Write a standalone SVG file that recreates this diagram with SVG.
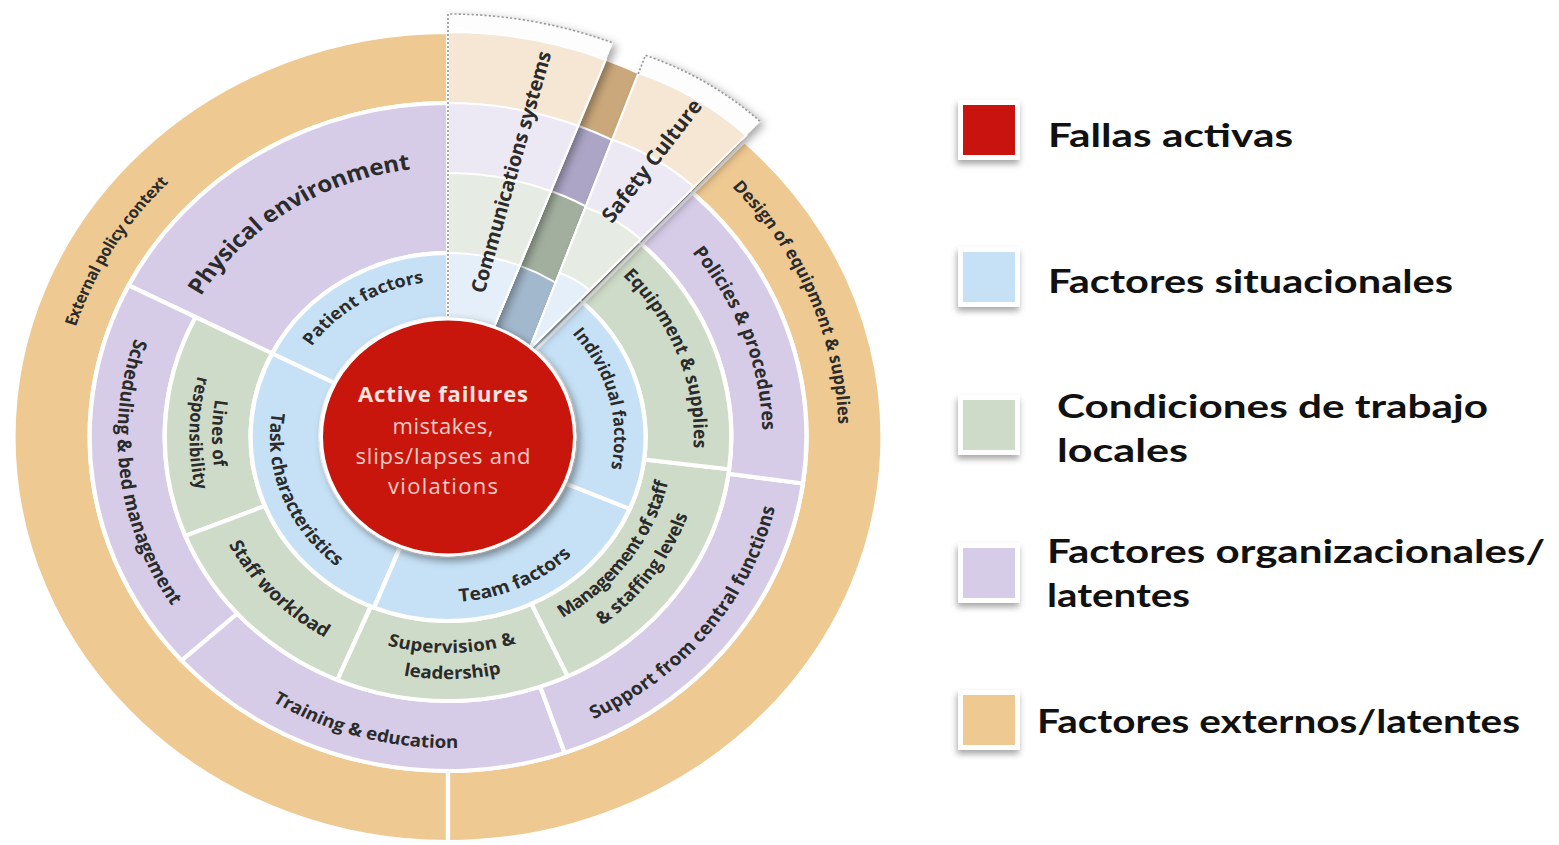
<svg xmlns="http://www.w3.org/2000/svg" width="1559" height="845" viewBox="0 0 1559 845">
<defs>
<style>
.lbl{font-family:"Open Sans","Liberation Sans",sans-serif;font-weight:700;fill:#2b2b2b}
.sec{stroke:#fff;stroke-width:4;stroke-linejoin:round}
.or{fill:#efc992}.pu{fill:#d6cce7}.gr{fill:#cfdbc9}.bu{fill:#c6e1f6}
.lor{fill:#f6e7d4}.lpu{fill:#ede9f4}.lgr{fill:#e6ece3}.lbu{fill:#e4eff9}
.dor{fill:#caa87b}.dpu{fill:#aca5c6}.dgr{fill:#a2af9e}.dbu{fill:#a2b8cc}
.band{stroke:#fff;stroke-width:2}
.dot{fill:none;stroke:#9a9a9a;stroke-width:1.6;stroke-dasharray:2 2}
.ctr{font-family:"Open Sans","Liberation Sans",sans-serif;font-size:22px}
.leg{font-family:Lato,"Liberation Sans",sans-serif;font-weight:700;font-size:33px;fill:#111}
</style>
<filter id="sh" x="-30%" y="-30%" width="160%" height="160%"><feDropShadow dx="4" dy="3" stdDeviation="4" flood-color="#000" flood-opacity="0.35"/></filter>
<filter id="shr" x="-30%" y="-30%" width="160%" height="160%"><feDropShadow dx="3" dy="4" stdDeviation="4" flood-color="#000" flood-opacity="0.45"/></filter>
<filter id="shl" x="-30%" y="-30%" width="160%" height="160%"><feDropShadow dx="-1" dy="4" stdDeviation="3" flood-color="#000" flood-opacity="0.35"/></filter>
<path id="t1" d="M-363.9,-6.4 A364,364 0 0 1 -176.5,-318.4"/>
<path id="t2" d="M220.6,-289.6 A364,364 0 0 1 361.1,46.3"/>
<path id="t3" d="M-240.6,-122.6 A270,270 0 0 1 -14.1,-269.6"/>
<path id="t4" d="M-259.2,-166.4 A308,308 0 0 0 -208.9,226.3"/>
<path id="t5" d="M-219.9,219.9 A311,311 0 0 0 80.5,300.4"/>
<path id="t6" d="M87.9,300.4 A313,313 0 0 0 312.3,20.2"/>
<path id="t7" d="M187.5,-225.1 A293,293 0 0 1 288.7,49.9"/>
<path id="t8a" d="M-188.6,-113.3 A220,220 0 0 0 -192.4,106.7"/>
<path id="t8b" d="M-206.6,-124.1 A241,241 0 0 0 -210.8,116.8"/>
<path id="t9" d="M-224.1,55.9 A231,231 0 0 0 -63.7,222.1"/>
<path id="t10a" d="M-104.7,188.9 A216,216 0 0 0 111.2,185.2"/>
<path id="t10b" d="M-117.3,211.7 A242,242 0 0 0 124.6,207.4"/>
<path id="t11a" d="M85.4,191.8 A210,210 0 0 0 208.8,21.9"/>
<path id="t11b" d="M96.4,216.5 A237,237 0 0 0 235.7,24.8"/>
<path id="t12" d="M144.1,-178.0 A229,229 0 0 1 226.2,35.8"/>
<path id="t13" d="M-137.0,-74.7 A156,156 0 0 1 -3.8,-156.0"/>
<path id="t14" d="M-157.3,-53.0 A166,166 0 0 0 -79.5,145.7"/>
<path id="t15" d="M-17.2,164.1 A165,165 0 0 0 133.5,97.0"/>
<path id="t16" d="M109.6,-109.6 A155,155 0 0 1 149.7,40.1"/>
</defs>

<g id="wheel" transform="translate(448,437) scale(1.073,1)">
  <g id="ring-external">
    <path id="external-policy" class="sec or" d="M0,405 A405,405 0 0 1 0,-405 L0,-334 A334,334 0 0 0 0,334 Z"/>
    <path id="design-equipment" class="sec or" d="M276.2,-296.2 A405,405 0 0 1 0,405 L0,334 A334,334 0 0 0 227.8,-244.3 Z"/>
  </g>
  <g id="ring-organisational">
    <path id="physical-environment" class="sec pu" d="M-297.6,-151.6 A334,334 0 0 1 0,-334 L0,-184 A184,184 0 0 0 -163.9,-83.5 Z"/>
    <path id="scheduling" class="sec pu" d="M-248.2,223.5 A334,334 0 0 1 -297.6,-151.6 L-235.2,-119.9 A264,264 0 0 0 -196.2,176.6 Z"/>
    <path id="training" class="sec pu" d="M108.7,315.8 A334,334 0 0 1 -248.2,223.5 L-196.2,176.6 A264,264 0 0 0 86.0,249.6 Z"/>
    <path id="support" class="sec pu" d="M330.8,46.5 A334,334 0 0 1 108.7,315.8 L86.0,249.6 A264,264 0 0 0 261.4,36.7 Z"/>
    <path id="policies" class="sec pu" d="M227.8,-244.3 A334,334 0 0 1 330.8,46.5 L261.4,36.7 A264,264 0 0 0 180.0,-193.1 Z"/>
  </g>
  <g id="ring-local">
    <path id="lines" class="sec gr" d="M-244.8,98.9 A264,264 0 0 1 -235.2,-119.9 L-163.9,-83.5 A184,184 0 0 0 -170.6,68.9 Z"/>
    <path id="staff-workload" class="sec gr" d="M-103.1,243.0 A264,264 0 0 1 -244.8,98.9 L-170.6,68.9 A184,184 0 0 0 -71.9,169.4 Z"/>
    <path id="supervision" class="sec gr" d="M111.6,239.3 A264,264 0 0 1 -103.1,243.0 L-71.9,169.4 A184,184 0 0 0 77.8,166.8 Z"/>
    <path id="management" class="sec gr" d="M262.0,32.2 A264,264 0 0 1 111.6,239.3 L77.8,166.8 A184,184 0 0 0 182.6,22.4 Z"/>
    <path id="equipment" class="sec gr" d="M180.0,-193.1 A264,264 0 0 1 262.0,32.2 L182.6,22.4 A184,184 0 0 0 125.5,-134.6 Z"/>
  </g>
  <g id="ring-situational">
    <path id="patient" class="sec bu" d="M-163.9,-83.5 A184,184 0 0 1 0,-184 L0,-119 A119,119 0 0 0 -106.0,-54.0 Z"/>
    <path id="task" class="sec bu" d="M-68.9,170.6 A184,184 0 0 1 -163.9,-83.5 L-106.0,-54.0 A119,119 0 0 0 -44.6,110.3 Z"/>
    <path id="team" class="sec bu" d="M169.4,71.9 A184,184 0 0 1 -68.9,170.6 L-44.6,110.3 A119,119 0 0 0 109.5,46.5 Z"/>
    <path id="individual" class="sec bu" d="M125.5,-134.6 A184,184 0 0 1 169.4,71.9 L109.5,46.5 A119,119 0 0 0 81.2,-87.0 Z"/>
  </g>
  <g id="gap-shadow">
    <path class="dor band" d="M0,0 L147.1,-377.3 A405,405 0 0 1 276.2,-296.2 Z"/>
    <path class="dpu band" d="M0,0 L121.3,-311.2 A334,334 0 0 1 227.8,-244.3 Z"/>
    <path class="dgr band" d="M0,0 L95.9,-246.0 A264,264 0 0 1 180.0,-193.1 Z"/>
    <path class="dbu band" d="M0,0 L66.8,-171.4 A184,184 0 0 1 125.5,-134.6 Z"/>
  </g>
  <g id="communications-card">
    <path fill="#fdfdfd" filter="url(#sh)" d="M0,0 L0,-423 A423,423 0 0 1 153.7,-394.1 Z"/>
    <path class="lor band" d="M0,0 L0,-405 A405,405 0 0 1 147.1,-377.3 Z"/>
    <path class="lpu band" d="M0,0 L0,-334 A334,334 0 0 1 121.3,-311.2 Z"/>
    <path class="lgr band" d="M0,0 L0,-264 A264,264 0 0 1 95.9,-246.0 Z"/>
    <path class="lbu band" d="M0,0 L0,-184 A184,184 0 0 1 66.8,-171.4 Z"/>
    <path class="dot" d="M0,-121 L0,-423 A423,423 0 0 1 153.7,-394.1"/>
  </g>
  <g id="safety-card" transform="translate(76,-88)">
    <path fill="#fdfdfd" filter="url(#sh)" d="M0,0 L108.1,-293.7 A313,313 0 0 1 215.1,-227.4 Z"/>
    <path class="lor band" d="M0,0 L101.5,-275.9 A294,294 0 0 1 202.0,-213.6 Z"/>
    <path class="lpu band" d="M0,0 L77.0,-209.3 A223,223 0 0 1 153.2,-162.0 Z"/>
    <path class="lgr band" d="M0,0 L52.1,-141.7 A151,151 0 0 1 103.8,-109.7 Z"/>
    <path class="lbu band" d="M0,0 L28.0,-76.0 A81,81 0 0 1 55.7,-58.9 Z"/>
    <path class="dot" d="M101.2,-275 L108.1,-293.7 A313,313 0 0 1 215.1,-227.4"/>
  </g>
  <g id="active-failures">
    <circle r="118" fill="#c9170f" stroke="#fff" stroke-width="3" filter="url(#shr)"/>
  </g>
  <g id="ring-labels" text-anchor="middle">
    <text class="lbl" font-size="15.5"><textPath href="#t1" startOffset="50%" textLength="170">External policy context</textPath></text>
    <text class="lbl" font-size="16.5"><textPath href="#t2" startOffset="50%" textLength="263">Design of equipment &amp; supplies</textPath></text>
    <text class="lbl" font-size="22.5"><textPath href="#t3" startOffset="50%" textLength="241">Physical environment</textPath></text>
    <text class="lbl" font-size="18"><textPath href="#t4" startOffset="50%" textLength="279">Scheduling &amp; bed management</textPath></text>
    <text class="lbl" font-size="17.5"><textPath href="#t5" startOffset="50%" textLength="182">Training &amp; education</textPath></text>
    <text class="lbl" font-size="18"><textPath href="#t6" startOffset="50%" textLength="280">Support from central functions</textPath></text>
    <text class="lbl" font-size="18"><textPath href="#t7" startOffset="50%" textLength="193">Policies &amp; procedures</textPath></text>
    <text class="lbl" font-size="17"><textPath href="#t8a" startOffset="50%" textLength="68">Lines of</textPath></text>
    <text class="lbl" font-size="16.5"><textPath href="#t8b" startOffset="50%" textLength="115">responsibility</textPath></text>
    <text class="lbl" font-size="18"><textPath href="#t9" startOffset="50%" textLength="131">Staff workload</textPath></text>
    <text class="lbl" font-size="17.5"><textPath href="#t10a" startOffset="50%" textLength="122">Supervision &amp;</textPath></text>
    <text class="lbl" font-size="17.5"><textPath href="#t10b" startOffset="50%" textLength="92">leadership</textPath></text>
    <text class="lbl" font-size="17.5"><textPath href="#t11a" startOffset="50%" textLength="172">Management of staff</textPath></text>
    <text class="lbl" font-size="17.5"><textPath href="#t11b" startOffset="50%" textLength="138">&amp; staffing levels</textPath></text>
    <text class="lbl" font-size="17.5"><textPath href="#t12" startOffset="50%" textLength="190">Equipment &amp; supplies</textPath></text>
    <text class="lbl" font-size="17"><textPath href="#t13" startOffset="50%" textLength="126">Patient factors</textPath></text>
    <text class="lbl" font-size="17.5"><textPath href="#t14" startOffset="50%" textLength="173">Task characteristics</textPath></text>
    <text class="lbl" font-size="18"><textPath href="#t15" startOffset="50%" textLength="117">Team factors</textPath></text>
    <text class="lbl" font-size="16.5"><textPath href="#t16" startOffset="50%" textLength="145">Individual factors</textPath></text>
  </g>
</g>

<g id="card-labels" text-anchor="middle">
  <text class="lbl" font-size="20" textLength="250" transform="translate(511,172) rotate(-74.4)" y="7">Communications systems</text>
  <text class="lbl" font-size="21" textLength="149" transform="translate(652,161) rotate(-52.4)" y="7">Safety Culture</text>
</g>

<g id="center-text" text-anchor="middle">
  <text class="ctr" x="443" y="402" font-weight="700" fill="#f7e4df" textLength="170">Active failures</text>
  <text class="ctr" x="443" y="434" fill="#f2cdc6" textLength="101">mistakes,</text>
  <text class="ctr" x="443" y="464" fill="#f2cdc6" textLength="175">slips/lapses and</text>
  <text class="ctr" x="443" y="494" fill="#f2cdc6" textLength="110">violations</text>
</g>

<g id="legend">
  <g id="leg-active">
    <rect x="958" y="100" width="62" height="60" fill="#fff" filter="url(#shl)"/>
    <rect x="963" y="105" width="52" height="50" fill="#c8130f"/>
    <text class="leg" x="1048" y="147" textLength="245" lengthAdjust="spacingAndGlyphs">Fallas activas</text>
  </g>
  <g id="leg-situational">
    <rect x="958" y="247" width="62" height="60" fill="#fff" filter="url(#shl)"/>
    <rect x="963" y="252" width="52" height="50" fill="#c6e1f6"/>
    <text class="leg" x="1048" y="293" textLength="405" lengthAdjust="spacingAndGlyphs">Factores situacionales</text>
  </g>
  <g id="leg-local">
    <rect x="958" y="395" width="62" height="60" fill="#fff" filter="url(#shl)"/>
    <rect x="963" y="400" width="52" height="50" fill="#cfdbc9"/>
    <text class="leg" x="1057" y="418" textLength="431" lengthAdjust="spacingAndGlyphs">Condiciones de trabajo</text>
    <text class="leg" x="1057" y="462" textLength="131" lengthAdjust="spacingAndGlyphs">locales</text>
  </g>
  <g id="leg-organisational">
    <rect x="958" y="543" width="62" height="60" fill="#fff" filter="url(#shl)"/>
    <rect x="963" y="548" width="52" height="50" fill="#d6cce7"/>
    <text class="leg" x="1047" y="563" textLength="498" lengthAdjust="spacingAndGlyphs">Factores organizacionales/</text>
    <text class="leg" x="1047" y="607" textLength="143" lengthAdjust="spacingAndGlyphs">latentes</text>
  </g>
  <g id="leg-external">
    <rect x="958" y="690" width="62" height="60" fill="#fff" filter="url(#shl)"/>
    <rect x="963" y="695" width="52" height="50" fill="#efc992"/>
    <text class="leg" x="1037" y="733" textLength="483" lengthAdjust="spacingAndGlyphs">Factores externos/latentes</text>
  </g>
</g>
</svg>
